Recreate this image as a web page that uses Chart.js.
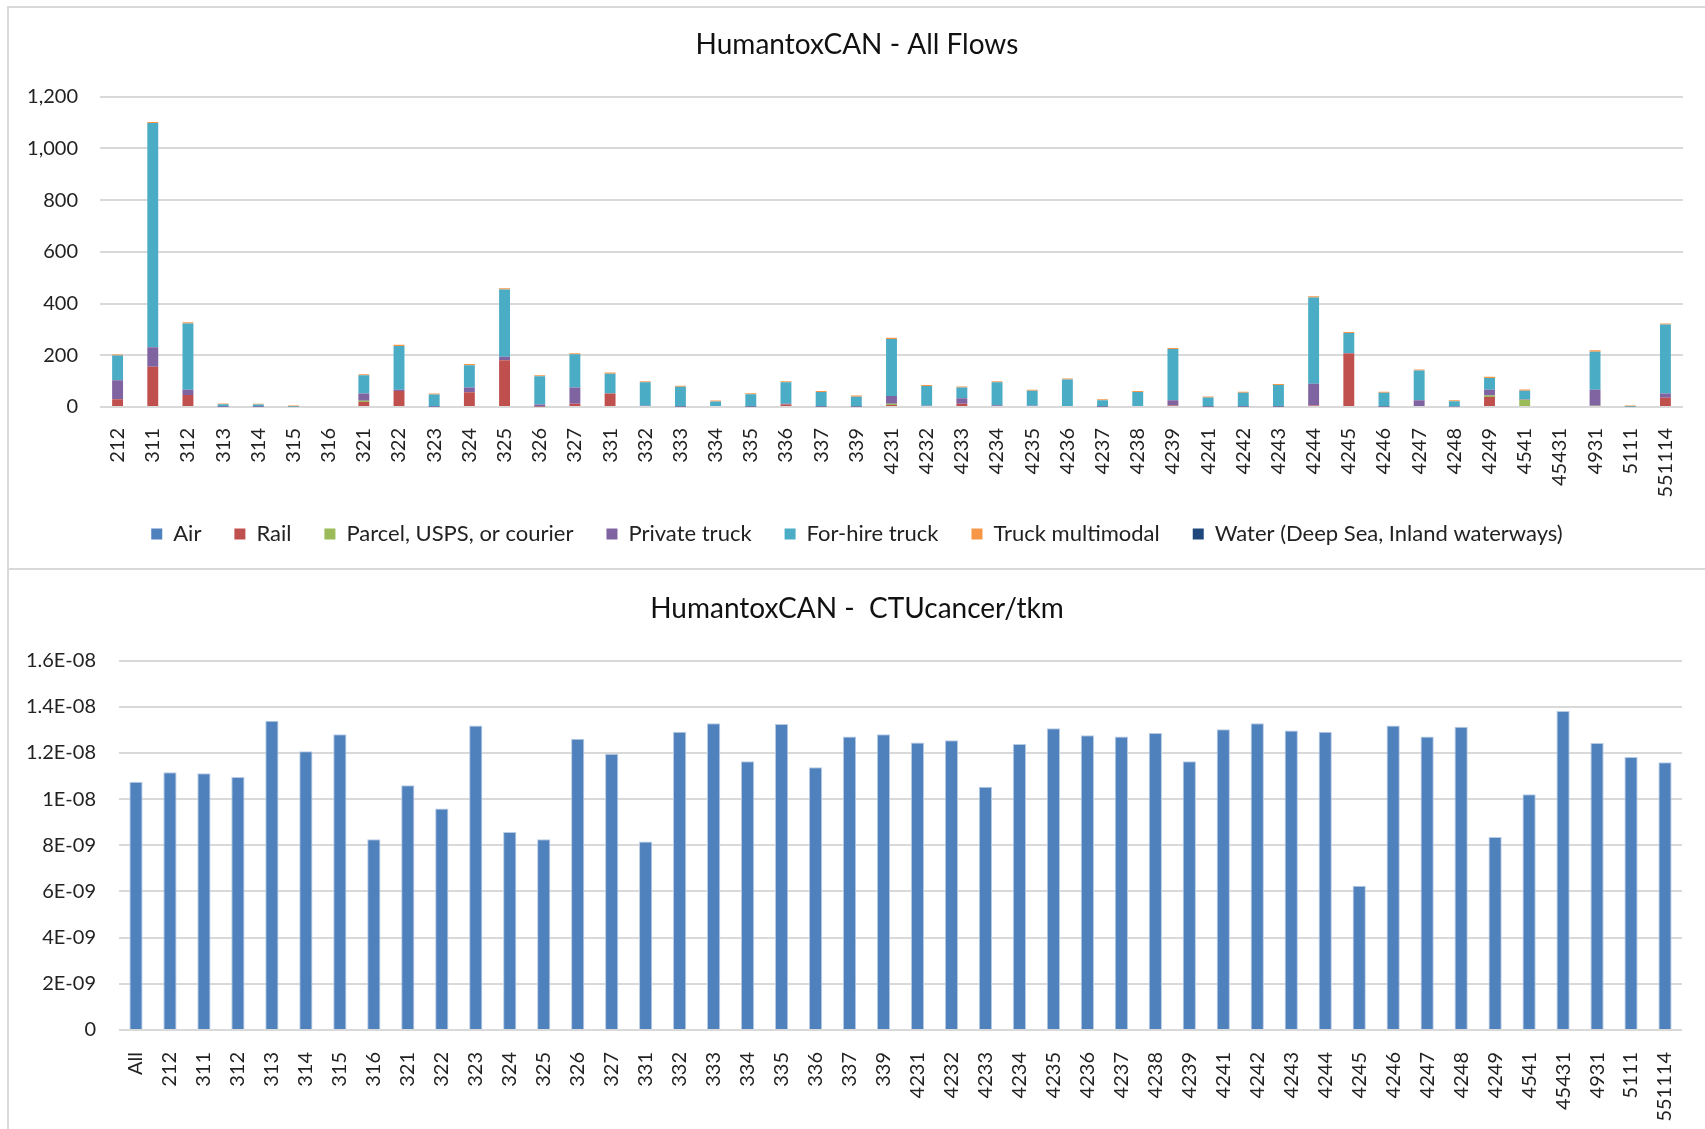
<!DOCTYPE html>
<html>
<head>
<meta charset="utf-8">
<script src="https://cdn.jsdelivr.net/npm/chart.js@4/dist/chart.umd.min.js"></script>
<style>
  body { margin: 0; background: #fff; }
  .box { position: absolute; border: 2px solid #d9d9d9; border-right: none; background: #fff; }
  #topBox { left: 7px; top: 6px; width: 1698px; height: 560px; }
  #bottomBox { left: 7px; top: 568px; width: 1698px; height: 570px; border-bottom: none; }
  canvas { display: block; }
</style>
</head>
<body>
<div class="box" id="topBox"><canvas id="flowsChart" width="1696" height="560"></canvas></div>
<div class="box" id="bottomBox"><canvas id="ctuChart" width="1696" height="559"></canvas></div>
<script>
// top chart: flows by mode
const flowCategories = ['212','311','312','313','314','315','316','321','322','323','324','325','326','327',
  '331','332','333','334','335','336','337','339','4231','4232','4233','4234','4235','4236','4237','4238',
  '4239','4241','4242','4243','4244','4245','4246','4247','4248','4249','4541','45431','4931','5111','551114'];

const airFlows = [0,0,0,0,0,0,0,0,0,0,0,0,0,0,0,0,0,0,0,0,0,0,0,0,0,0,0,0,0,0,0,0,0,0,0,0,0,0,0,0,0,0,0,0,0];
const railFlows = [30,156,46,0,0,0,0,19,62,0,57,181,2,13,52,0,0,0,0,10,0,0,8,0,13,0,0,0,0,0,6,0,0,0,6,207,0,4,0,39,0,0,0,0,36];
const parcelFlows = [0,0,0,0,0,0,0,5,0,0,0,0,0,0,0,0,0,0,0,0,0,0,5,0,0,4,0,0,0,0,0,0,0,0,0,0,0,0,0,5,28,0,5,0,0];
const privateTruckFlows = [73,75,21,1,1,0,0,28,5,1,18,13,8,62,0,5,1,0,1,3,1,1,30,5,21,3,5,4,1,4,20,1,1,1,84,2,1,22,2,23,2,0,62,0,16];
const forHireTruckFlows = [96,867,256,10,9,1,0,71,169,47,86,260,109,129,77,91,77,21,48,83,57,39,220,76,41,89,58,102,25,54,198,36,54,84,333,77,54,115,20,45,33,0,147,1,267];
const multimodalFlows = [4,4,5,3,3,5,0,4,5,4,5,5,4,4,4,4,4,4,4,4,4,4,5,4,4,4,4,4,4,4,4,4,4,4,5,4,4,4,4,5,5,0,5,5,4];
const waterFlows = [0,0,0,0,0,0,0,0,0,0,0,0,0,0,0,0,0,0,0,0,0,0,0,0,0,0,0,0,0,0,0,0,0,0,0,0,0,0,0,0,0,0,0,0,0];
const flowTickLabels = ['0','200','400','600','800','1,000','1,200'];

// bottom chart: CTUcancer per tkm
const ctuCategories = ['All','212','311','312','313','314','315','316','321','322','323','324','325','326','327',
  '331','332','333','334','335','336','337','339','4231','4232','4233','4234','4235','4236','4237','4238',
  '4239','4241','4242','4243','4244','4245','4246','4247','4248','4249','4541','45431','4931','5111','551114'];
const ctuValues = [1.075e-8,1.116e-8,1.112e-8,1.096e-8,1.340e-8,1.207e-8,1.281e-8,8.26e-9,1.060e-8,9.59e-9,
  1.319e-8,8.58e-9,8.26e-9,1.261e-8,1.197e-8,8.16e-9,1.292e-8,1.329e-8,1.164e-8,1.325e-8,1.138e-8,1.271e-8,
  1.281e-8,1.245e-8,1.255e-8,1.054e-8,1.239e-8,1.307e-8,1.277e-8,1.271e-8,1.286e-8,1.164e-8,1.303e-8,1.329e-8,
  1.297e-8,1.292e-8,6.25e-9,1.319e-8,1.271e-8,1.313e-8,8.36e-9,1.021e-8,1.382e-8,1.243e-8,1.182e-8,1.160e-8];
const ctuTickLabels = ['0','2E-09','4E-09','6E-09','8E-09','1E-08','1.2E-08','1.4E-08','1.6E-08'];

Chart.defaults.font.family = 'Lato';
Chart.defaults.color = '#222';
Chart.defaults.animation = false;

const gridColor = '#d9d9d9';

function mode(label, data, color) {
  return { label: label, data: data, backgroundColor: color, borderWidth: 0,
           categoryPercentage: 1, barPercentage: 0.31 };
}

// empty right axis, only to leave a margin right of the plot without moving the title
function rightGap(w) {
  return { position: 'right', display: true, grid: { display: false }, border: { display: false },
           ticks: { display: false }, afterFit: (s) => { s.width = w; } };
}

// fixed axis height; let long rotated labels run past it instead of being clipped
function xHeight(h) {
  return (s) => {
    s.height = h;
    s._computeLabelArea = () => null;
  };
}

new Chart(document.getElementById('flowsChart'), {
  type: 'bar',
  data: {
    labels: flowCategories,
    datasets: [
      mode('Air', airFlows, '#4f81bd'),
      mode('Rail', railFlows, '#c0504d'),
      mode('Parcel, USPS, or courier', parcelFlows, '#9bbb59'),
      mode('Private truck', privateTruckFlows, '#8064a2'),
      mode('For-hire truck', forHireTruckFlows, '#4bacc6'),
      mode('Truck multimodal', multimodalFlows, '#f79646'),
      mode('Water (Deep Sea, Inland waterways)', waterFlows, '#1f497d')
    ]
  },
  options: {
    responsive: false,
    devicePixelRatio: 1,
    layout: { padding: { left: 0, right: 0, top: 0, bottom: 13 } },
    plugins: {
      title: {
        display: true,
        text: 'HumantoxCAN - All Flows',
        font: { size: 28, weight: 'normal' },
        color: '#111',
        padding: { top: 20, bottom: 35 }
      },
      legend: {
        position: 'bottom',
        labels: { boxWidth: 11, boxHeight: 11, padding: 33, font: { size: 22 } }
      },
      tooltip: { enabled: false }
    },
    scales: {
      x: {
        stacked: true,
        grid: { display: false },
        border: { display: false },
        ticks: { autoSkip: false, maxRotation: 90, minRotation: 90, padding: 13, font: { size: 20 } },
        afterFit: xHeight(83)
      },
      y: {
        stacked: true,
        min: 0,
        max: 1200,
        ticks: { stepSize: 200, padding: 22, font: { size: 20 },
                 callback: (v, i) => flowTickLabels[i] },
        grid: { color: gridColor, lineWidth: 2, drawTicks: false },
        border: { display: false },
        afterFit: (s) => { s.width = 91; }
      },
      gap: rightGap(22)
    }
  }
});

new Chart(document.getElementById('ctuChart'), {
  type: 'bar',
  data: {
    labels: ctuCategories,
    datasets: [{
      label: 'CTUcancer/tkm',
      data: ctuValues,
      backgroundColor: '#4f81bd',
      borderColor: '#b9cbe4',
      borderWidth: { left: 1, right: 1, top: 1, bottom: 0 },
      categoryPercentage: 1,
      barPercentage: 0.39
    }]
  },
  options: {
    responsive: false,
    devicePixelRatio: 1,
    layout: { padding: { left: 0, right: 0, top: 0, bottom: 0 } },
    plugins: {
      title: {
        display: true,
        text: 'HumantoxCAN -  CTUcancer/tkm',
        font: { size: 28, weight: 'normal' },
        color: '#111',
        padding: { top: 22, bottom: 35 }
      },
      legend: { display: false },
      tooltip: { enabled: false }
    },
    scales: {
      x: {
        grid: { display: false },
        border: { display: false },
        ticks: { autoSkip: false, maxRotation: 90, minRotation: 90, padding: 14, font: { size: 20 } },
        afterFit: xHeight(99)
      },
      y: {
        min: 0,
        max: 1.6e-8,
        ticks: { stepSize: 2e-9, padding: 23, font: { size: 20 },
                 callback: (v, i) => ctuTickLabels[i] },
        grid: { color: gridColor, lineWidth: 2, drawTicks: false },
        border: { display: false },
        afterFit: (s) => { s.width = 110; }
      },
      gap: rightGap(23)
    }
  }
});
</script>
</body>
</html>
